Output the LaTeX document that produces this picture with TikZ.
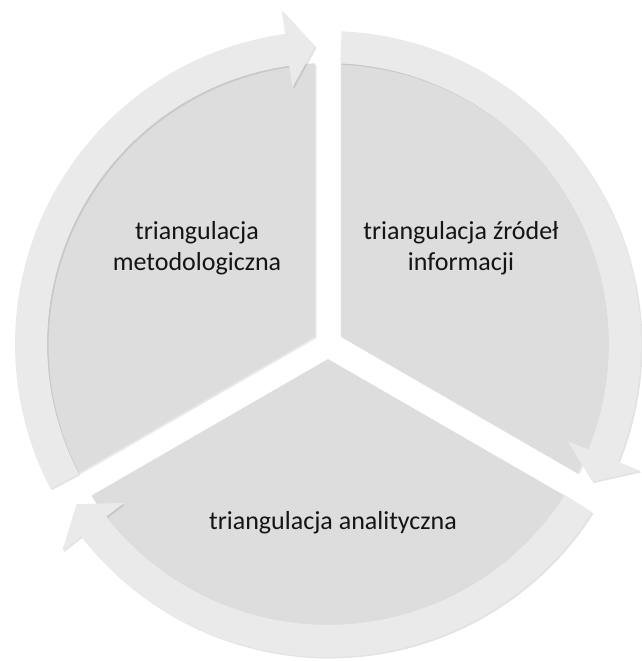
\documentclass[tikz,border=0pt]{standalone}
\usepackage{fontspec}
\setmainfont{Carlito}
\usetikzlibrary{shadows}
\definecolor{sectorfill}{RGB}{221,221,221}
\definecolor{ringfill}{RGB}{234,234,234}
\definecolor{txt}{RGB}{20,20,20}
\tikzset{
  sectorshape/.style={fill=sectorfill, draw=none,
    drop shadow={opacity=0.18, shadow xshift=1.5pt, shadow yshift=-1.5pt}},
  ringshape/.style={fill=ringfill, draw=none,
    drop shadow={opacity=0.22, shadow xshift=1.5pt, shadow yshift=-1.5pt}},
  label/.style={font=\fontsize{26}{31}\selectfont, text=txt, align=center}
}
\newcommand{\mysector}[1]{%
  \path[sectorshape] ($(C)+(#1+60:15pt)$) -- ($(C)+(#1+2.65:281pt)$)
    arc[start angle=#1+2.65, end angle=#1+117.35, radius=281pt] -- cycle;}
\newcommand{\myring}[1]{%
  \path[ringshape] ($(C)+(#1:313pt)$)
    arc[start angle=#1, end angle=#1-109.6, radius=313pt]
    -- ($(C)+(#1-109.6:337pt)$) -- ($(C)+(#1-115:298pt)$)
    -- ($(C)+(#1-109.6:259pt)$) -- ($(C)+(#1-109.6:281pt)$)
    arc[start angle=#1-109.6, end angle=#1, radius=281pt] -- cycle;}
\usetikzlibrary{calc}
\begin{document}
\begin{tikzpicture}[x=1pt,y=1pt]
\useasboundingbox (0,0) rectangle (642,661);
\coordinate (C) at (328,317);
% sectors
\mysector{-30}
\mysector{90}
\mysector{210}
% ring arrows
\myring{87.5}
\myring{207.5}
\myring{327.5}
% labels
\node[label] (meth) at (197,413) {triangulacja\\metodologiczna};
\node[label] (src) at (461,413) {triangulacja źródeł\\informacji};
\node[label] (anal) at (333,138) {triangulacja analityczna};
\end{tikzpicture}
\end{document}
